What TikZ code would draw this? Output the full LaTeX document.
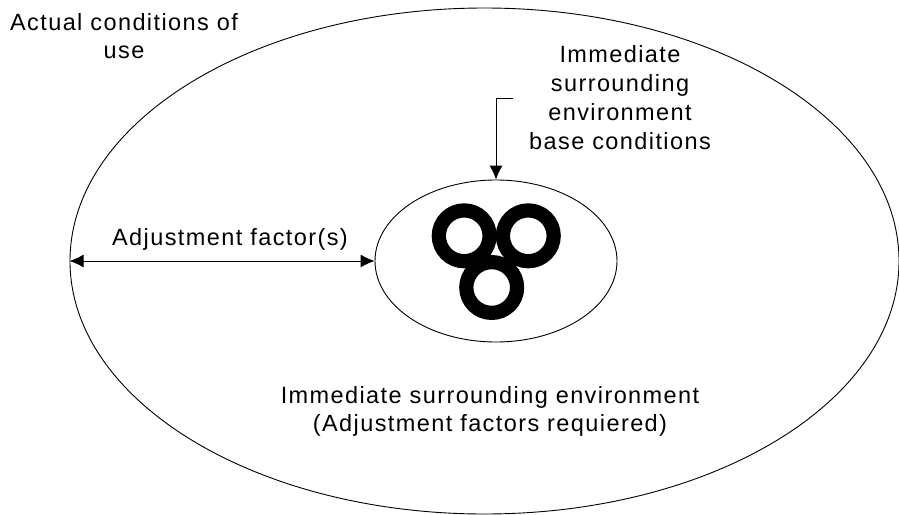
\documentclass[tikz,border=0pt]{standalone}
\usepackage{fontspec}
\setmainfont{Liberation Sans}[LetterSpace=6]
\usetikzlibrary{arrows.meta,shapes.geometric,positioning}
\tikzset{>={Latex[length=14pt,width=13pt]}}

\begin{document}
\begin{tikzpicture}[x=1pt,y=-1pt,
		zone/.style={draw,ellipse,inner sep=0pt,line width=0.9pt},
		ring/.style={draw,circle,line width=14.2pt,minimum size=50.8pt,inner sep=0pt},
		lbl/.style={align=center,inner sep=0pt,font=\fontsize{23.5}{28.8}\selectfont}]
		\useasboundingbox (0,0) rectangle (899,514);
		\node[zone,minimum width=829pt,minimum height=506pt] (outer) at (484.5,261) {};
		\node[zone,minimum width=242pt,minimum height=162pt] (inner) at (496,261) {};
		\node[ring] (ring1) at (464.2,235.8) {};
		\node[ring] (ring2) at (528.3,235.8) {};
		\node[ring] (ring3) at (491.7,287.5) {};
		\node[lbl] (actual) at (124,36) {Actual conditions of\\use};
		\node[lbl] (base) at (620,97.5) {Immediate\\surrounding\\environment\\base conditions};
		\node[lbl,anchor=base] (factor) at (230,245) {Adjustment factor(s)};
		\node[lbl] (surround) at (490,411.5) {Immediate surrounding environment\\(Adjustment factors requiered)};
		\coordinate (tick) at (513,98);
		\draw[<->,line width=0.9pt] (outer.west) -- (inner.west);
		\draw[->,line width=0.9pt] (tick) -- (inner.north |- tick) -- (inner.north);
	\end{tikzpicture}
\end{document}
